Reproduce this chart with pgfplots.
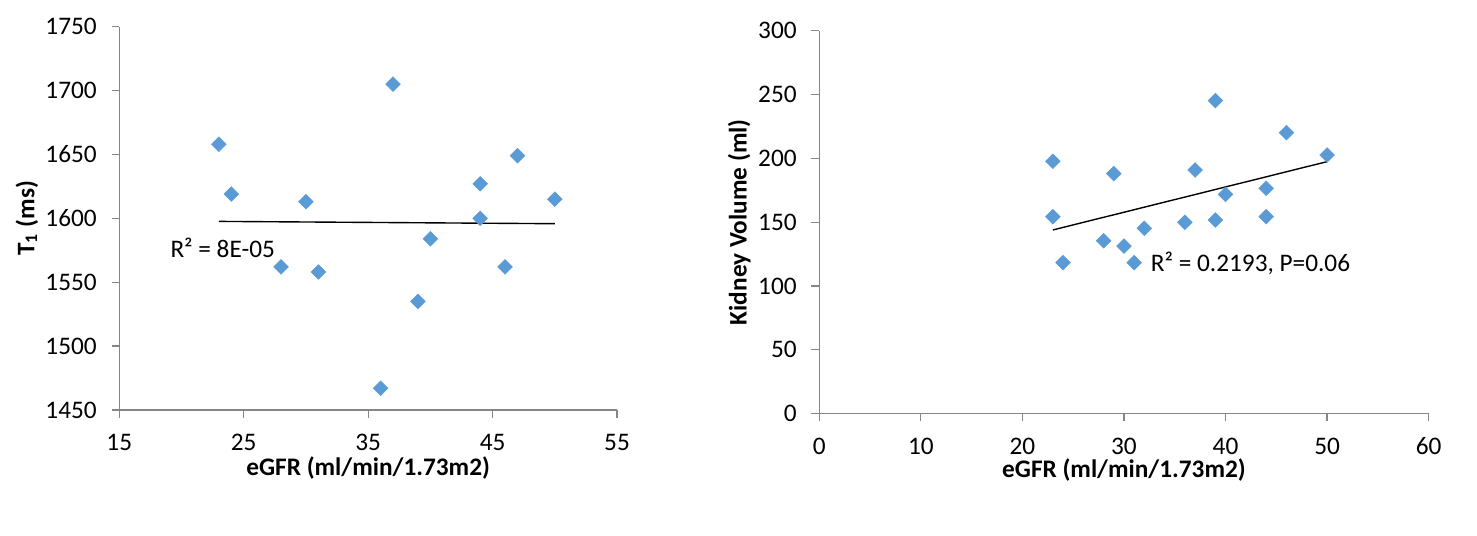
\documentclass[border=0pt]{standalone}
\usepackage{fontspec}
\setmainfont{Carlito}
\usepackage{pgfplots}
\pgfplotsset{compat=1.18}
\definecolor{xlblue}{HTML}{5B9BD5}
\definecolor{axgray}{HTML}{868686}

\newcommand{\chartfont}{\fontsize{9.1}{10.5}\selectfont}

\pgfplotsset{
  xlscatter/.style={
    scale only axis,
    axis x line=bottom, axis y line=left,
    axis line style={axgray, line width=0.45pt, -},
    tick style={axgray, line width=0.45pt},
    tick align=outside, major tick length=2.8pt,
    minor tick num=0,
    /pgf/number format/assume math mode=true,
    /pgf/number format/1000 sep={},
    ticklabel style={font=\chartfont},
    xticklabel style={yshift=-2.3pt},
    yticklabel style={xshift=-1.8pt},
    label style={font=\chartfont\bfseries},
    clip=false,
  },
  xlmarks/.style={only marks, mark=square*, mark size=1.87pt,
    mark options={rotate=45, fill=xlblue, draw=xlblue, line width=0.2pt}},
  trend/.style={black, line width=0.5pt, mark=none},
}

\begin{document}
\begin{tikzpicture}
\path[use as bounding box] (-42.95pt,-45.36pt) rectangle (488.8pt,147.6pt);

% left: T1 vs eGFR
\begin{axis}[xlscatter,
  width=179.2pt, height=138pt,
  xmin=15, xmax=55, ymin=1450, ymax=1750,
  xtick={15,25,...,55}, ytick={1450,1500,...,1750},
  xlabel={eGFR (ml/min/1.73m2)},
  ylabel={T\textsubscript{1} (ms)},
  xlabel style={at={([yshift=-20.9pt]axis description cs:0.5,0)}, anchor=center},
  ylabel style={at={([xshift=-33.3pt]axis description cs:0,0.5)}, anchor=center},
]
\addplot[xlmarks] coordinates {
  (23,1658) (24,1619) (28,1562) (30,1613) (31,1558) (36,1467) (37,1705)
  (39,1535) (40,1584) (44,1627) (44,1600) (46,1562) (47,1649) (50,1615)
};
\addplot[trend] coordinates {(23,1597.6) (50,1595.8)};
\node[anchor=west, inner sep=0pt, font=\chartfont] at (axis cs:19.07,1577) {R² = 8E-05};
\end{axis}

% right: kidney volume vs eGFR
\begin{axis}[xlscatter,
  at={(252pt,-1.33pt)},
  width=219.4pt, height=137.9pt,
  xmin=0, xmax=60, ymin=0, ymax=300,
  xtick={0,10,...,60}, ytick={0,50,...,300},
  xlabel={eGFR (ml/min/1.73m2)},
  ylabel={Kidney Volume (ml)},
  xlabel style={at={([yshift=-20.2pt]axis description cs:0.5,0)}, anchor=center},
  ylabel style={at={([xshift=-28.8pt]axis description cs:0,0.5)}, anchor=center},
]
\addplot[xlmarks] coordinates {
  (23,197.7) (23,154.3) (24,118.3) (28,135.5) (29,188) (30,131.3) (31,118.3)
  (32,145.2) (36,149.9) (37,190.9) (39,245.2) (39,151.7) (40,171.8)
  (44,176.5) (44,154.3) (46,220.1) (50,202.6)
};
\addplot[trend] coordinates {(23,143.9) (50,197.4)};
\node[anchor=west, inner sep=0pt, font=\chartfont] at (axis cs:32.6,117.8) {R² = 0.2193, P=0.06};
\end{axis}
\end{tikzpicture}
\end{document}
